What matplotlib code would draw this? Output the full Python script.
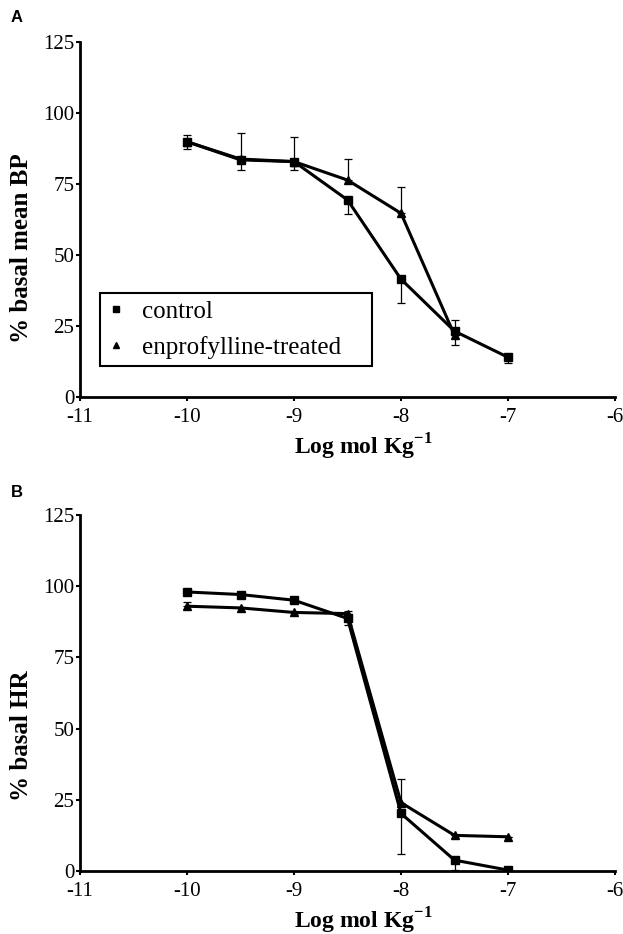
import matplotlib
matplotlib.use('Agg')
import matplotlib.pyplot as plt
from matplotlib.lines import Line2D

plt.rcParams['font.family'] = ['Liberation Serif', 'DejaVu Serif']
plt.rcParams['mathtext.fontset'] = 'custom'
plt.rcParams['mathtext.rm'] = 'Liberation Serif'
plt.rcParams['mathtext.bf'] = 'Liberation Serif:bold'
plt.rcParams['axes.unicode_minus'] = False

# doses (log mol/kg)
dose = [-10, -9.5, -9, -8.5, -8, -7.5, -7]

# panel A - % basal mean BP
bp_control = [89.9, 83.5, 82.9, 69.4, 41.5, 23.2, 14.0]
bp_control_err = [2.5, 3.5, 2.9, 5.0, 8.5, 4.9, 2.0]
bp_treated = [89.9, 83.8, 82.9, 76.4, 64.7, 21.8]
bp_treated_err = [2.3, 9.3, 8.8, 7.3, 9.3, 5.2]

# panel B - % basal HR
hr_control = [98.0, 97.1, 95.1, 88.7, 20.2, 3.8, 0.3]
hr_control_err = [0.8, 0.5, 0.8, 2.3, 14.4, 3.5, 0.0]
hr_treated = [93.0, 92.4, 90.8, 90.4, 24.0, 12.5, 12.0]
hr_treated_err = [1.5, 0.0, 0.0, 0.8, 8.2, 0.0, 0.0]


def draw_panel(ax, control, control_err, treated, treated_err, ylabel, ylabel_y):
    # control has error bars going down, treated going up
    ax.errorbar(dose[:len(control)], control, yerr=[control_err, [0] * len(control)],
                color='black', lw=2.2, marker='s', ms=5.8, ecolor='black',
                elinewidth=0.9, capsize=3.2, capthick=0.9, zorder=3)
    ax.errorbar(dose[:len(treated)], treated, yerr=[[0] * len(treated), treated_err],
                color='black', lw=2.2, marker='^', ms=5.2, ecolor='black',
                elinewidth=0.9, capsize=3.2, capthick=0.9, zorder=3)

    ax.set_xlim(-11, -6)
    ax.set_ylim(0, 125)
    ax.set_xticks([-11, -10, -9, -8, -7, -6])
    ax.set_yticks([0, 25, 50, 75, 100, 125])
    ax.spines['top'].set_visible(False)
    ax.spines['right'].set_visible(False)
    ax.spines['left'].set_linewidth(2)
    ax.spines['bottom'].set_linewidth(2)
    ax.tick_params(direction='out', length=3, width=1.5, labelsize=15, pad=1)
    ax.tick_params(axis='x', pad=5)

    ax.set_xlabel(r'Log mol Kg$^{\mathbf{-1}}$', fontsize=17, fontweight='bold')
    ax.set_ylabel(ylabel, fontsize=18, fontweight='bold')
    ax.xaxis.set_label_coords(0.53, -0.097)
    ax.yaxis.set_label_coords(-0.088, ylabel_y)


fig = plt.figure(figsize=(6.23, 9.34), dpi=100)
ax_a = fig.add_axes([0.1284, 0.5749, 0.8588, 0.3801])
ax_b = fig.add_axes([0.1284, 0.0675, 0.8588, 0.381])

draw_panel(ax_a, bp_control, bp_control_err, bp_treated, bp_treated_err,
           '% basal mean BP', 0.42)
draw_panel(ax_b, hr_control, hr_control_err, hr_treated, hr_treated_err,
           '% basal HR', 0.379)

handles = [Line2D([], [], color='black', marker='s', ls='none', ms=4.5),
           Line2D([], [], color='black', marker='^', ls='none', ms=4.5)]
leg = ax_a.legend(handles, ['control', 'enprofylline-treated'],
                  loc='lower left', bbox_to_anchor=(0.037, 0.087, 0.508, 0.206),
                  mode='expand', fontsize=18, fancybox=False, framealpha=1,
                  edgecolor='black', handlelength=0.7, handletextpad=0.7,
                  labelspacing=0.5, borderpad=0.3, borderaxespad=0)
leg.get_frame().set_linewidth(1.5)

fig.text(0.017, 0.981, 'A', fontsize=12, fontweight='bold', family='Liberation Sans',
         va='center')
fig.text(0.017, 0.473, 'B', fontsize=12, fontweight='bold', family='Liberation Sans',
         va='center')

fig.savefig('out.png', dpi=100)
